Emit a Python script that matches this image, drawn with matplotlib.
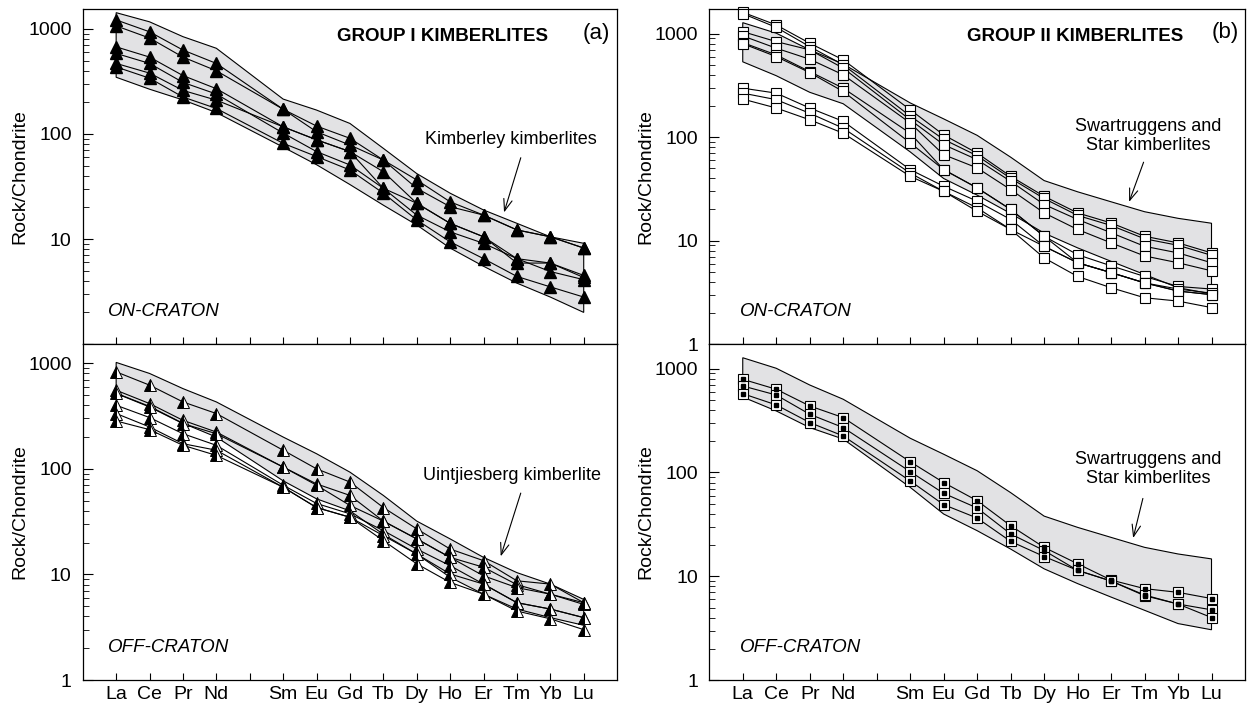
import matplotlib
matplotlib.use('Agg')
import matplotlib.pyplot as plt

plt.rcParams['font.family'] = ['Liberation Sans', 'DejaVu Sans']
plt.rcParams['font.size'] = 14

# REE order, Pm has a tick but no label and no data
elements = ['La', 'Ce', 'Pr', 'Nd', 'Pm', 'Sm', 'Eu', 'Gd', 'Tb', 'Dy', 'Ho', 'Er', 'Tm', 'Yb', 'Lu']
tick_labels = ['La', 'Ce', 'Pr', 'Nd', '', 'Sm', 'Eu', 'Gd', 'Tb', 'Dy', 'Ho', 'Er', 'Tm', 'Yb', 'Lu']
measured = ['La', 'Ce', 'Pr', 'Nd', 'Sm', 'Eu', 'Gd', 'Tb', 'Dy', 'Ho', 'Er', 'Tm', 'Yb', 'Lu']

# (a) Group I, on-craton (Kimberley)
g1_on = [
    [1220, 940, 630, 470, 172, 119, 91, 56.5, 36.5, 22.6, 16.9, 12.2, 10.5, 8.2],
    [1070, 820, 540, 400, 172, 105, 78.5, 56.5, 30.4, 20.3, 16.9, 12.2, 10.5, 8.2],
    [676, 540, 360, 270, 117, 88, 68, 43.7, 21.9, 14.1, 10.5, 6.5, 5.9, 4.5],
    [585, 470, 310, 240, 102, 68, 50.7, 30.4, 16.9, 11.7, 9.1, 6.5, 4.9, 4.1],
    [470, 380, 260, 210, 117, 88, 68, 30.4, 21.9, 14.1, 10.5, 5.9, 5.9, 4.3],
    [435, 340, 225, 175, 81.5, 61, 45.4, 27.3, 15.2, 9.4, 6.5, 4.4, 3.5, 2.8],
]
g1_on_band_top = [1430, 1170, 845, 655, 215, 169, 126, 73, 42, 27.3, 18.9, 14.1, 10.5, 9.1]
g1_on_band_bot = [347, 267, 211, 160, 75, 51, 33, 21, 13.6, 8.2, 5.5, 3.8, 2.8, 2.0]

# (a) Group I, off-craton (Uintjiesberg)
g1_off = [
    [829, 620, 430, 334, 150, 100, 75, 43, 27, 17.4, 13.5, 8.7, 8.1, 5.4],
    [555, 415, 288, 223, 104, 72, 56, 32, 21.7, 14.5, 11.7, 8.0, 6.5, 5.2],
    [517, 385, 268, 215, 104, 70, 45, 32, 21.7, 14.5, 9.7, 7.5, 6.5, 5.4],
    [400, 306, 215, 167, 70, 47, 37.5, 26, 17.4, 12.1, 8.1, 5.4, 4.7, 3.9],
    [334, 249, 173, 150, 67, 43, 34.8, 23.3, 15.6, 10.1, 8.1, 5.4, 4.7, 3.9],
    [284, 235, 167, 134, 67, 43, 34.8, 20.9, 12.6, 8.4, 6.5, 4.5, 3.8, 3.0],
]
g1_off_band_top = [1018, 800, 575, 430, 200, 139, 93, 56, 32, 21.7, 14.5, 10.4, 8.1, 5.8]
g1_off_band_bot = [520, 390, 270, 200, 77, 52, 40, 24, 15.6, 9.4, 6.5, 4.7, 3.9, 3.3]

# (b) Group II, on-craton
g2_on = [
    [1608, 1213, 808, 558, 184, 105, 70, 41.8, 26.8, 18.5, 14.8, 11.0, 9.5, 7.6],
    [1560, 1150, 749, 500, 160, 95, 66, 40, 25.5, 17.5, 14.0, 10.4, 9.0, 7.2],
    [1045, 837, 697, 464, 147, 84.5, 60.5, 37.4, 22.3, 16.0, 11.9, 8.8, 7.6, 6.1],
    [950, 723, 566, 400, 137, 67.6, 50.4, 31.1, 18.5, 12.8, 9.5, 7.1, 6.1, 5.1],
    [819, 623, 430, 297, 109, 48.5, 32.3, 20.0, 11.0, 7.3, 5.7, 4.5, 3.6, 3.4],
    [800, 600, 420, 276, 88, 48.5, 32.3, 20.0, 11.0, 6.1, 4.9, 3.9, 3.25, 3.0],
    [297, 266, 191, 142, 48.5, 33.5, 24.0, 16.0, 8.8, 6.1, 4.9, 3.9, 3.4, 3.1],
    [266, 230, 170, 122, 44.9, 29.9, 20.7, 12.8, 8.8, 6.1, 4.9, 3.9, 3.25, 3.0],
    [233, 191, 147, 109, 41.8, 29.9, 19.2, 12.8, 6.8, 4.5, 3.5, 2.8, 2.6, 2.25],
]

# (b) Group II, off-craton
g2_off = [
    [791, 634, 438, 338, 127, 80, 53.5, 30.7, 19.0, 13.2, 9.2, 7.6, 7.0, 6.1],
    [682, 558, 364, 271, 102, 63, 45.5, 25.6, 17.7, 11.4, 9.0, 6.5, 5.4, 4.75],
    [575, 448, 303, 225, 83, 49, 36.4, 21.7, 15.5, 11.4, 9.0, 6.6, 5.4, 4.0],
]

# Swartruggens and Star field, same in both Group II panels
sw_band_top = [1276, 1010, 697, 508, 214, 150, 104, 64, 38, 29.6, 23.7, 19.0, 16.4, 14.7]
sw_band_bot = [534, 392, 271, 210, 72, 39.8, 27.5, 18.3, 11.8, 8.5, 6.3, 4.7, 3.5, 3.05]

xpos = [elements.index(e) + 1 for e in measured]


def setup_axes(ax, ymax, show_xlabels, show_one=True):
    ax.set_yscale('log')
    ax.set_ylim(1, ymax)
    ax.set_xlim(0, 16)
    ax.set_xticks(range(1, 16))
    if show_xlabels:
        ax.set_xticklabels(tick_labels)
    else:
        ax.set_xticklabels([])
    ax.set_yticks([1, 10, 100, 1000])
    ylabels = ['1' if show_one else '', '10', '100', '1000']
    ax.set_yticklabels(ylabels)
    ax.tick_params(axis='x', direction='in', length=5, width=0.8, pad=4, top=False, labelsize=14)
    ax.tick_params(axis='y', which='major', direction='in', length=7, width=0.8, pad=8, right=False, labelsize=14)
    ax.tick_params(axis='y', which='minor', direction='in', length=4, width=0.6, right=False)
    ax.set_ylabel('Rock/Chondrite', fontsize=14, labelpad=0)
    for sp in ax.spines.values():
        sp.set_linewidth(0.9)


def draw_band(ax, top, bot):
    xs = xpos + xpos[::-1]
    ys = top + bot[::-1]
    ax.fill(xs, ys, facecolor='#e2e2e4', edgecolor='black', linewidth=0.8, zorder=1)


def label_arrow(ax, text, text_xy, tail, head):
    ax.text(text_xy[0], text_xy[1], text, ha='center', va='center', fontsize=13, linespacing=1.15)
    ax.annotate('', xy=head, xytext=tail,
                arrowprops=dict(arrowstyle='->,head_length=0.6,head_width=0.22', lw=0.8, color='black'))


fig = plt.figure(figsize=(12.52, 7.08), dpi=100)
ax_tl = fig.add_axes([0.0661, 0.5141, 0.4268, 0.4732])
ax_bl = fig.add_axes([0.0661, 0.0395, 0.4268, 0.4746])
ax_tr = fig.add_axes([0.5665, 0.5141, 0.4279, 0.4732])
ax_br = fig.add_axes([0.5665, 0.0395, 0.4279, 0.4746])

setup_axes(ax_tl, 1550, False, show_one=False)
setup_axes(ax_bl, 1520, True)
setup_axes(ax_tr, 1730, False)
setup_axes(ax_br, 1730, True)

# Group I on-craton: black triangles
draw_band(ax_tl, g1_on_band_top, g1_on_band_bot)
for s in g1_on:
    ax_tl.plot(xpos, s, color='black', lw=0.8, marker='^', ms=8,
               mfc='black', mec='black', clip_on=False, zorder=3)

# Group I off-craton: half filled triangles
draw_band(ax_bl, g1_off_band_top, g1_off_band_bot)
for s in g1_off:
    ax_bl.plot(xpos, s, color='black', lw=0.8, marker='^', ms=8, fillstyle='left',
               mfc='black', mfcalt='white', mec='black', mew=0.7, clip_on=False, zorder=3)

# Group II on-craton: open squares
draw_band(ax_tr, sw_band_top, sw_band_bot)
for s in g2_on:
    ax_tr.plot(xpos, s, color='black', lw=0.8, marker='s', ms=7.5,
               mfc='white', mec='black', mew=0.8, clip_on=False, zorder=3)

# Group II off-craton: open squares with dot
draw_band(ax_br, sw_band_top, sw_band_bot)
for s in g2_off:
    ax_br.plot(xpos, s, color='black', lw=0.8, marker='s', ms=7.5,
               mfc='white', mec='black', mew=0.8, clip_on=False, zorder=3)
    ax_br.plot(xpos, s, ls='none', marker='s', ms=3, mfc='black', mec='black', zorder=4)

# panel texts
ax_tl.text(0.674, 0.919, 'GROUP I KIMBERLITES', transform=ax_tl.transAxes,
           ha='center', va='center', fontsize=13.5, fontweight='bold')
ax_tl.text(0.961, 0.928, '(a)', transform=ax_tl.transAxes, ha='center', va='center', fontsize=16)
ax_tr.text(0.683, 0.918, 'GROUP II KIMBERLITES', transform=ax_tr.transAxes,
           ha='center', va='center', fontsize=13.5, fontweight='bold')
ax_tr.text(0.963, 0.930, '(b)', transform=ax_tr.transAxes, ha='center', va='center', fontsize=16)

for ax, txt in [(ax_tl, 'ON-CRATON'), (ax_bl, 'OFF-CRATON')]:
    ax.text(0.047, 0.097, txt, transform=ax.transAxes, ha='left', va='center', fontsize=13.5, style='italic')
for ax, txt in [(ax_tr, 'ON-CRATON'), (ax_br, 'OFF-CRATON')]:
    ax.text(0.058, 0.097, txt, transform=ax.transAxes, ha='left', va='center', fontsize=13.5, style='italic')

label_arrow(ax_tl, 'Kimberley kimberlites', (12.82, 87.7), (13.14, 63), (12.59, 16.9))
label_arrow(ax_bl, 'Uintjiesberg kimberlite', (12.84, 86.5), (13.14, 62.4), (12.49, 14.0))
label_arrow(ax_tr, 'Swartruggens and\nStar kimberlites', (13.1, 103), (13.0, 60.6), (12.51, 22.3))
label_arrow(ax_br, 'Swartruggens and\nStar kimberlites', (13.1, 107), (12.97, 59.7), (12.64, 22))

fig.savefig('out.png', dpi=100)
